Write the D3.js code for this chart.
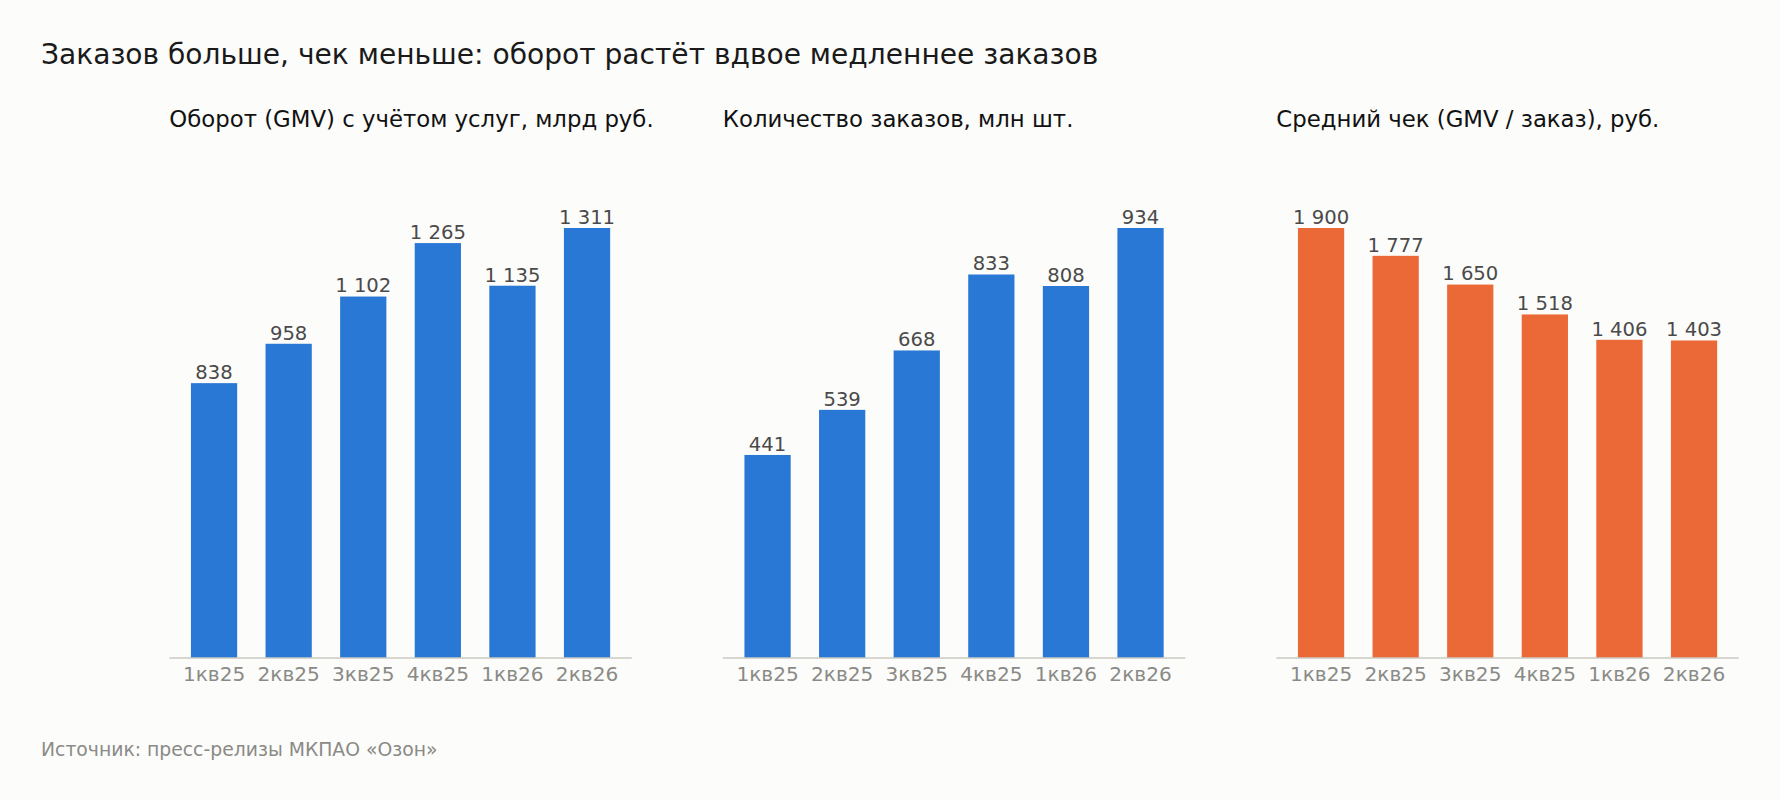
<!DOCTYPE html>
<html>
<head>
<meta charset="utf-8">
<script src="https://cdn.jsdelivr.net/npm/d3@7"></script>
<style>
  html, body { margin: 0; padding: 0; background: #fcfcfa; }
  svg { display: block; font-family: "DejaVu Sans", sans-serif; }
</style>
</head>
<body>
<div class="graph"></div>
<script>
var quarters = ["1кв25", "2кв25", "3кв25", "4кв25", "1кв26", "2кв26"]
var gmv = [838, 958, 1102, 1265, 1135, 1311]
var orders = [441, 539, 668, 833, 808, 934]
var avgCheck = [1900, 1777, 1650, 1518, 1406, 1403]
var panelTitles = [
  "Оборот (GMV) с учётом услуг, млрд руб.",
  "Количество заказов, млн шт.",
  "Средний чек (GMV / заказ), руб."
]
var chartTitle = "Заказов больше, чек меньше: оборот растёт вдвое медленнее заказов"
var sourceText = "Источник: пресс-релизы МКПАО «Озон»"

var w = 1780
var h = 800
var fmt = d3.formatLocale({ decimal: ",", thousands: " ", grouping: [3], currency: ["", ""] }).format(",d")

var svg = d3.select(".graph")
  .append("svg")
  .attr("width", w)
  .attr("height", h)

svg.append("rect")
  .attr("width", w)
  .attr("height", h)
  .attr("fill", "#fcfcfa")

svg.append("text")
  .attr("x", 41)
  .attr("y", 64)
  .attr("font-size", 28.1)
  .attr("fill", "#1a1a1a")
  .text(chartTitle)

svg.append("text")
  .attr("x", 41)
  .attr("y", 756)
  .attr("font-size", 18.8)
  .attr("fill", "#8a8a86")
  .text(sourceText)

var panelLeft = [169.3, 722.8, 1276.3]
var panelWidth = 462.5
var baseY = 658
var topY = 228

var drawPanel = function(i, values, color){
  var x0 = panelLeft[i]
  var g = svg.append("g")

  var x = d3.scaleBand()
    .domain(quarters)
    .range([x0, x0 + panelWidth])
    .paddingInner(0.38)
    .paddingOuter(0.29)

  var y = d3.scaleLinear()
    .domain([0, d3.max(values)])
    .range([baseY, topY])

  g.append("text")
    .attr("x", x0)
    .attr("y", 126.5)
    .attr("font-size", 22.8)
    .attr("fill", "#111")
    .text(panelTitles[i])

  g.selectAll("rect.bar")
    .data(values)
    .enter()
    .append("rect")
    .attr("class", "bar")
    .attr("x", function(d, j){ return x(quarters[j]) })
    .attr("y", function(d){ return y(d) })
    .attr("width", x.bandwidth())
    .attr("height", function(d){ return baseY - y(d) })
    .attr("fill", color)

  g.selectAll("text.val")
    .data(values)
    .enter()
    .append("text")
    .attr("class", "val")
    .attr("x", function(d, j){ return x(quarters[j]) + x.bandwidth() / 2 })
    .attr("y", function(d){ return y(d) - 4.2 })
    .attr("text-anchor", "middle")
    .attr("font-size", 19.6)
    .attr("fill", "#4a4a4a")
    .text(function(d){ return fmt(d) })

  var axis = g.append("g")
    .attr("transform", "translate(0," + baseY + ")")
    .call(d3.axisBottom(x).tickSize(0).tickPadding(0).tickSizeOuter(0))

  axis.select(".domain")
    .attr("stroke", "#cbcac2")
    .attr("stroke-width", 1.3)
    .attr("d", "M" + x0 + ",0H" + (x0 + panelWidth))

  axis.selectAll(".tick text")
    .attr("y", 0)
    .attr("dy", 0)
    .attr("transform", "translate(0,23)")
    .attr("font-family", "DejaVu Sans, sans-serif")
    .attr("font-size", 20.1)
    .attr("fill", "#8a8a86")
}

drawPanel(0, gmv, "#2a78d6")
drawPanel(1, orders, "#2a78d6")
drawPanel(2, avgCheck, "#eb6936")
</script>
</body>
</html>
